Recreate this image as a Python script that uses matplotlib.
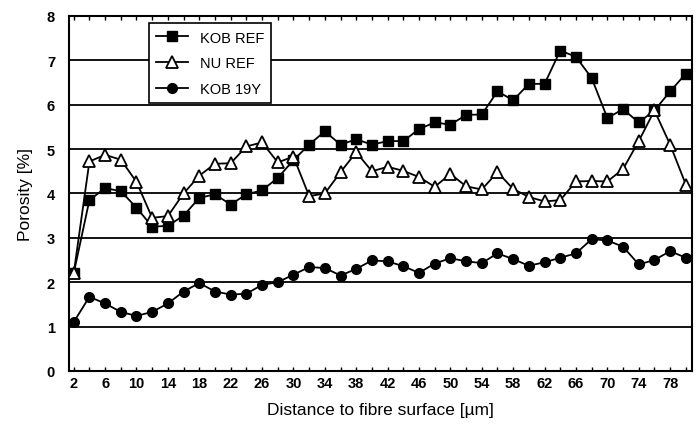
import numpy as np
import matplotlib
matplotlib.use("Agg")
import matplotlib.pyplot as plt

plt.rcParams['font.family'] = ['Liberation Sans', 'DejaVu Sans']

# distance to fibre surface (um), one point every 2 um
distance = np.arange(2, 82, 2)

kob_ref = [2.2, 3.85, 4.12, 4.05, 3.68, 3.25, 3.27, 3.5, 3.9, 3.98,
           3.75, 3.98, 4.07, 4.35, 4.75, 5.1, 5.4, 5.1, 5.22, 5.1,
           5.18, 5.18, 5.45, 5.6, 5.55, 5.77, 5.78, 6.3, 6.1, 6.47,
           6.47, 7.22, 7.08, 6.6, 5.7, 5.9, 5.6, 5.87, 6.3, 6.7]
nu_ref = [2.2, 4.72, 4.87, 4.76, 4.26, 3.45, 3.49, 4.0, 4.4, 4.67,
          4.68, 5.06, 5.15, 4.7, 4.83, 3.94, 4.0, 4.48, 4.93, 4.5,
          4.6, 4.51, 4.37, 4.15, 4.44, 4.16, 4.09, 4.48, 4.1, 3.92,
          3.82, 3.85, 4.27, 4.28, 4.27, 4.55, 5.18, 5.87, 5.1, 4.2]
kob_19y = [1.1, 1.67, 1.52, 1.33, 1.24, 1.33, 1.52, 1.79, 1.98, 1.79,
           1.72, 1.74, 1.94, 2.0, 2.17, 2.34, 2.32, 2.15, 2.3, 2.49,
           2.47, 2.36, 2.21, 2.42, 2.54, 2.47, 2.43, 2.65, 2.52, 2.37,
           2.45, 2.55, 2.65, 2.97, 2.94, 2.8, 2.4, 2.5, 2.7, 2.55]

xticks_major = list(range(2, 79, 4))
yticks = list(range(0, 9))

fig = plt.figure(figsize=(6.97, 4.35), dpi=100)
ax = fig.add_axes([0.099, 0.145, 0.894, 0.816])

# horizontal grid lines
for yv in range(1, 8):
    ax.axhline(yv, color='black', lw=1.3, zorder=1)

ax.plot(distance, kob_19y, color='black', lw=1.3, marker='o', ms=7,
        mfc='black', mec='black', label='KOB 19Y', zorder=3)
ax.plot(distance, kob_ref, color='black', lw=1.3, marker='s', ms=7.5,
        mfc='black', mec='black', label='KOB REF', zorder=3)
ax.plot(distance, nu_ref, color='black', lw=1.3, marker='^', ms=8,
        mfc='white', mec='black', mew=1.3, label='NU REF', zorder=4)

ax.set_xlim(1.4, 80.8)
ax.set_ylim(0, 8)
ax.set_xticks(xticks_major)
ax.set_xticks(range(4, 81, 4), minor=True)
ax.set_yticks(yticks)
ax.tick_params(axis='x', which='both', direction='in', top=True, length=3, width=1)
ax.tick_params(axis='y', direction='in', length=0, width=1, pad=10)
for lbl in ax.get_xticklabels() + ax.get_yticklabels():
    lbl.set_fontweight('bold')
    lbl.set_fontsize(10.5)
for sp in ax.spines.values():
    sp.set_linewidth(1.5)

ax.set_xlabel('Distance to fibre surface [µm]', fontsize=12.5, labelpad=9)
ax.set_ylabel('Porosity [%]', fontsize=12.5, labelpad=10)

handles, labels = ax.get_legend_handles_labels()
order = [1, 2, 0]
leg = ax.legend([handles[i] for i in order], [labels[i] for i in order],
                loc='upper left', bbox_to_anchor=(0.116, 1.0), frameon=True,
                fancybox=False, edgecolor='black', framealpha=1,
                prop={'size': 10.5}, handlelength=2.2, borderpad=0.5,
                labelspacing=0.8)
leg.get_frame().set_linewidth(1.2)

fig.savefig('out.png', dpi=100)
